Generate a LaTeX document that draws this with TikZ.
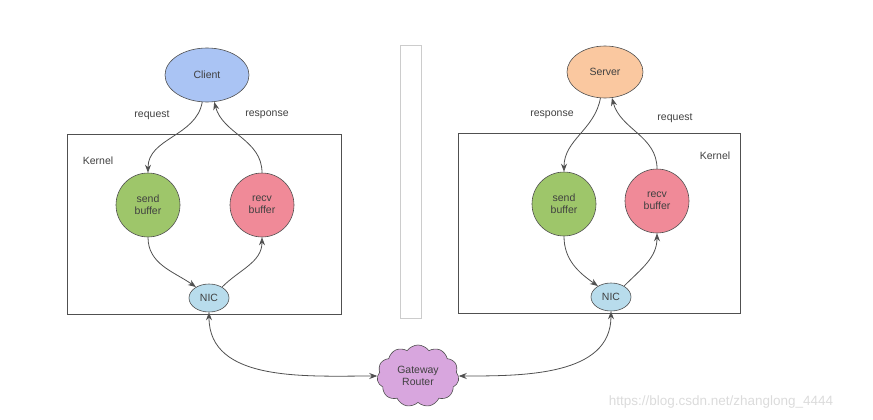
\documentclass[tikz,border=0pt]{standalone}
\usepackage{fontspec}
\setmainfont{Liberation Sans}
\usetikzlibrary{positioning,shapes.geometric,shapes.symbols,arrows.meta,calc}

\definecolor{clientblue}{RGB}{170,196,244}
\definecolor{serverorange}{RGB}{250,200,160}
\definecolor{sendgreen}{RGB}{158,198,106}
\definecolor{recvpink}{RGB}{240,138,152}
\definecolor{nicblue}{RGB}{184,220,236}
\definecolor{routerpurple}{RGB}{216,166,222}
\definecolor{edgegray}{RGB}{80,80,80}

\begin{document}
\begin{tikzpicture}[
    x=1pt, y=-1pt,
    font=\fontsize{10.5}{12}\selectfont,
    host/.style={ellipse, draw=edgegray, line width=0.6pt, minimum width=84pt, minimum height=54pt, inner sep=1pt, text=black!75},
    buffer/.style={circle, draw=edgegray, line width=0.6pt, minimum size=64pt, inner sep=1pt, align=center, text=black!75},
    nic/.style={ellipse, draw=edgegray, line width=0.6pt, fill=nicblue, minimum width=40pt, minimum height=28pt, inner sep=0pt, text=black!75},
    kernel/.style={rectangle, draw=edgegray, line width=0.6pt, minimum width=274pt, minimum height=180pt},
    router/.style={cloud, cloud puffs=11, cloud puff arc=110, aspect=1.3, draw=edgegray, line width=0.6pt, fill=routerpurple, align=center, minimum width=82pt, minimum height=62pt, inner sep=0pt, text=black!75},
    arrow/.style={-{Stealth[length=8pt,width=6pt]}, edgegray, line width=0.8pt},
    twoway/.style={{Stealth[length=8pt,width=6pt]}-{Stealth[length=8pt,width=6pt]}, edgegray, line width=0.8pt},
    signal/.style={text=black!75}
]
\useasboundingbox (0,0) rectangle (873,420);

% Kernel boxes and divider
\node[kernel] (kernelL) at (204,224) {};
\node[kernel, minimum width=282pt] (kernelR) at (599,223) {};
\node[rectangle, draw=gray!40, minimum width=21pt, minimum height=273pt] (divider) at (410.5,181.5) {};
\node[signal] (kernelLabelL) at (98,161) {Kernel};
\node[signal] (kernelLabelR) at (715,156) {Kernel};

% Client side
\node[host, fill=clientblue] (client) at (207,75) {Client};
\node[buffer, fill=sendgreen] (sendL) at (148,205) {send\\buffer};
\node[buffer, fill=recvpink] (recvL) at (262,205) {recv\\buffer};
\node[nic] (nicL) at (209,298) {NIC};
\node[signal] (reqL) at (152,115) {request};
\node[signal] (respL) at (267,115) {response};

% Server side
\node[host, fill=serverorange, minimum width=76pt, minimum height=52pt] (server) at (605,72) {Server};
\node[buffer, fill=sendgreen] (sendR) at (564,204) {send\\buffer};
\node[buffer, fill=recvpink] (recvR) at (657,201) {recv\\buffer};
\node[nic] (nicR) at (611,297) {NIC};
\node[signal] (respR) at (552,115) {response};
\node[signal] (reqR) at (675,118) {request};

% Router
\node[router] (router) at (418,376) {Gateway\\Router};

% Client paths
\draw[arrow] (client.-100) to[out=-100, in=90] (sendL.north);
\draw[arrow] (recvL.north) to[out=90, in=-75] (client.-75);
\draw[arrow] (sendL.south) to[out=-90, in=145] (nicL.140);
\draw[arrow] (nicL.40) to[out=45, in=-90] (recvL.south);

% Server paths
\draw[arrow] (server.-100) to[out=-100, in=90] (sendR.north);
\draw[arrow] (recvR.north) to[out=90, in=-75] (server.-75);
\draw[arrow] (sendR.south) to[out=-90, in=145] (nicR.140);
\draw[arrow] (nicR.40) to[out=45, in=-90] (recvR.south);

% Network
\draw[twoway] (nicL.south) to[out=-90, in=180] (router.west);
\draw[twoway] (nicR.south) to[out=-90, in=0] (router.east);

% Watermark
\node[text=gray!28, font=\fontsize{13.5}{15}\selectfont] (mark) at (721,402) {https://blog.csdn.net/zhanglong\_4444};
\end{tikzpicture}
\end{document}
